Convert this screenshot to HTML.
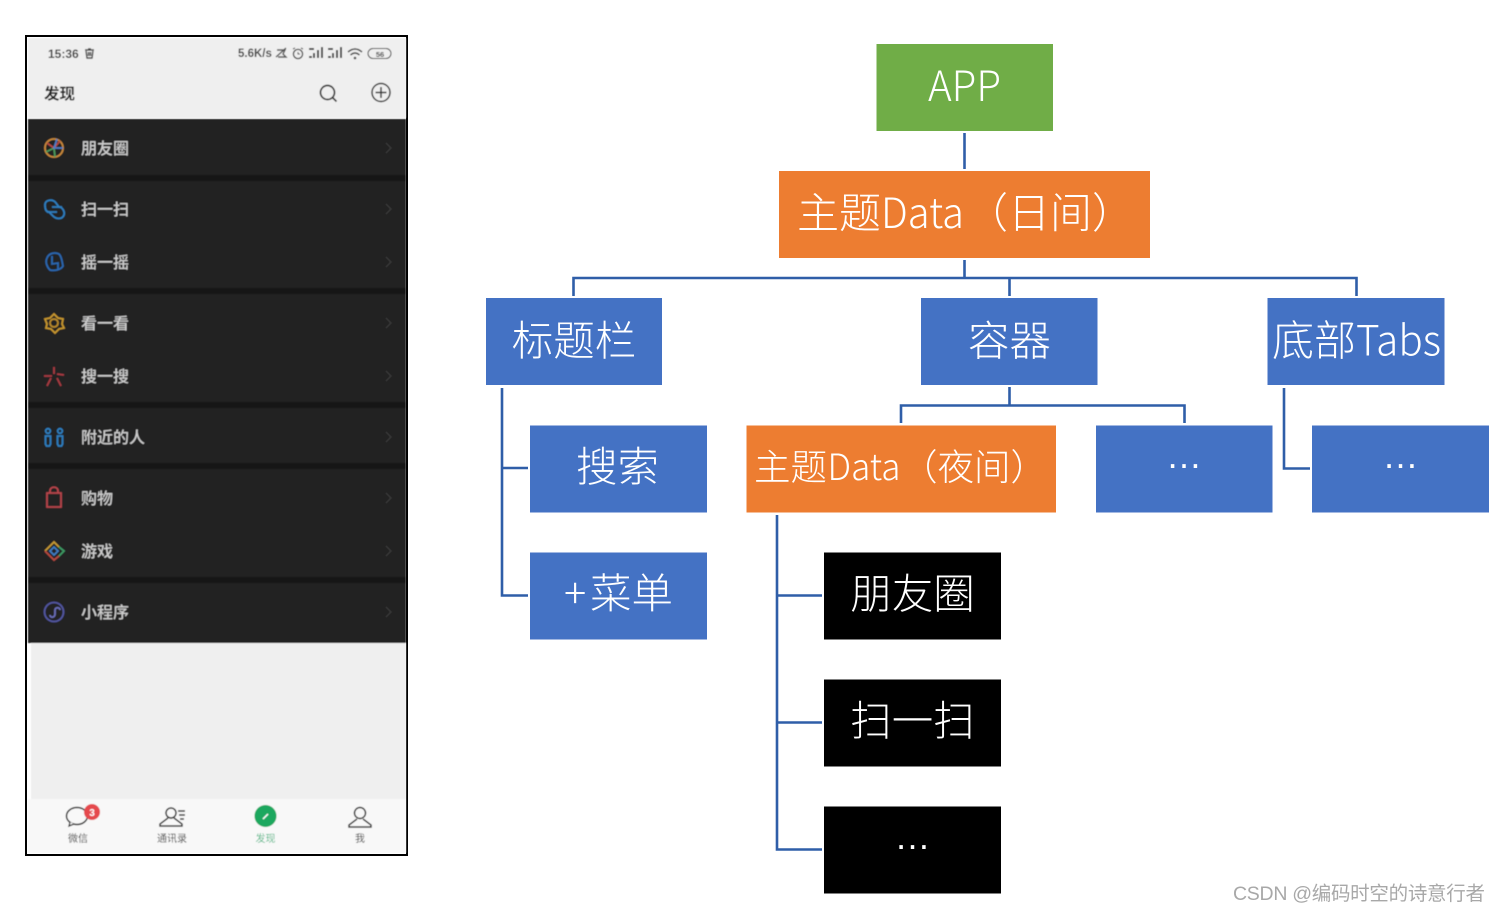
<!DOCTYPE html>
<html lang="zh">
<head>
<meta charset="utf-8">
<style>
html,body{margin:0;padding:0;background:#fff;width:1500px;height:912px;overflow:hidden}
svg{display:block}
text{font-family:"Liberation Sans","Noto Sans CJK SC",sans-serif}
.n{fill:#fff;font-weight:300;font-size:41.500px;text-anchor:middle;font-family:"Noto Sans CJK SC","Liberation Sans",sans-serif}
.s{text-anchor:start}
.d{fill:#fff;font-size:36px;text-anchor:middle;font-family:"Liberation Sans",sans-serif}
.m{fill:#cdcdcd;font-size:16px;font-weight:500}
.t{fill:#4a4a4a;font-size:10px;text-anchor:middle}
.c{fill:none;stroke:#2f5ea8;stroke-width:2.6}
.i{fill:none;stroke-width:1.8}
.ch{fill:none;stroke:#3a3a3a;stroke-width:1.3}
</style>
</head>
<body>
<svg width="1500" height="912" viewBox="0 0 1500 912" xmlns="http://www.w3.org/2000/svg">
<defs><filter id="b" x="-5%" y="-5%" width="110%" height="110%"><feGaussianBlur stdDeviation="0.6"/></filter></defs>

<!-- Phone -->
<rect x="26" y="36" width="381" height="819" fill="#fff" stroke="#000" stroke-width="2"/>
<g filter="url(#b)">
<rect x="28" y="38" width="378" height="80" fill="#efefef"/>
<rect x="28" y="119" width="378" height="524" fill="#222224"/>
<rect x="28" y="175" width="378" height="6" fill="#171717"/>
<rect x="28" y="288" width="378" height="6" fill="#171717"/>
<rect x="28" y="402" width="378" height="6" fill="#171717"/>
<rect x="28" y="463" width="378" height="6" fill="#171717"/>
<rect x="28" y="577" width="378" height="6" fill="#171717"/>
<rect x="31" y="643" width="375" height="156" fill="#efefef"/>
<rect x="28" y="799" width="378" height="54" fill="#f8f8f8"/>

<!-- status bar -->
<text x="48" y="58" font-size="12" font-weight="700" fill="#444">15:36</text>
<path d="M85 50h9M86 51l1 7h5l1-7M88 49h3M87.500 53h4M87.500 55h4" fill="none" stroke="#444" stroke-width="1.400"/>
<text x="238" y="57" font-size="11.500" font-weight="700" fill="#444">5.6K/s</text>
<path d="M276 57l10-9M277 50h8l-2 4 3 3h-8" fill="none" stroke="#555" stroke-width="1.400"/>
<circle cx="298" cy="54" r="4.600" fill="none" stroke="#444" stroke-width="1.300"/>
<path d="M293 49l2-1M303 49l-2-1M298 52v2h2" fill="none" stroke="#444" stroke-width="1"/>
<path d="M309 58h3v-2h-3zM313 58h2v-5h-2zM317 58h2v-8h-2zM321 58h2v-11h-2zM309 50h5v-2h-5z" fill="#444"/>
<path d="M328 58h3v-2h-3zM332 58h2v-5h-2zM336 58h2v-8h-2zM340 58h2v-11h-2zM328 50h5v-2h-5z" fill="#444"/>
<path d="M348 52q7-6 14 0M350.500 55q4.500-4 9 0" fill="none" stroke="#444" stroke-width="1.500"/>
<circle cx="355" cy="58" r="1.300" fill="#444"/>
<rect x="368" y="48.500" width="23" height="10" rx="5" fill="none" stroke="#444" stroke-width="1"/>
<text x="380" y="57" font-size="7.500" font-weight="700" fill="#444" text-anchor="middle">56</text>

<!-- title bar -->
<text x="44" y="99" font-size="15.500" font-weight="700" fill="#222">发现</text>
<circle cx="327.500" cy="92.500" r="7" fill="none" stroke="#333" stroke-width="1.700"/>
<path d="M332.500 97.500l4 4" stroke="#333" stroke-width="1.700"/>
<circle cx="381" cy="92.500" r="9" fill="none" stroke="#333" stroke-width="1.500"/>
<path d="M375.500 92.500h11M381 87v11" stroke="#333" stroke-width="1.500"/>

<!-- menu labels -->
<text class="m" x="81" y="154">朋友圈</text>
<text class="m" x="81" y="215">扫一扫</text>
<text class="m" x="81" y="268">摇一摇</text>
<text class="m" x="81" y="329">看一看</text>
<text class="m" x="81" y="382">搜一搜</text>
<text class="m" x="81" y="443">附近的人</text>
<text class="m" x="81" y="504">购物</text>
<text class="m" x="81" y="557">游戏</text>
<text class="m" x="81" y="618">小程序</text>

<!-- chevrons -->
<path class="ch" d="M386 143l5 5-5 5M386 204l5 5-5 5M386 257l5 5-5 5M386 318l5 5-5 5M386 371l5 5-5 5M386 432l5 5-5 5M386 493l5 5-5 5M386 546l5 5-5 5M386 607l5 5-5 5"/>

<!-- menu icons -->
<circle cx="54" cy="148" r="9" class="i" stroke="#c9893a"/>
<path class="i" stroke="#4c9a5a" d="M46 152l8-4 1 9"/>
<path class="i" stroke="#b6483f" d="M47 143l7 5 6-7"/>
<path class="i" stroke="#4f7cc4" d="M63 148l-9 0 3-9"/>
<path class="i" stroke="#2f7fc0" d="M45 205c0-6 9-6 11-2l3 4c3 0 6 4 5 8-2 5-8 4-11 1l-4-4c-3 0-4-3-4-7z"/>
<path class="i" stroke="#2f7fc0" d="M47 212h10M52 207h10"/>
<path class="i" stroke="#2a68b0" d="M47 258c2-5 8-6 12-4 3 3 3 8 4 12-2 4-9 5-13 4-3-3-5-8-3-12zM52 256v8l6-1v6"/>
<path class="i" stroke="#c6962f" d="M54 314l4 4 5 1-1 5 2 4-5 1-4 4-4-4-5-1 1-4-2-5 5-1z"/>
<circle cx="54" cy="323" r="4" class="i" stroke="#b98a2c"/>
<path class="i" stroke="#a83a42" d="M54 367v7M44 376h8M57 374l7 1M51 378l-4 8M57 378l4 8"/>
<circle cx="48" cy="431" r="2.300" class="i" stroke="#2f7fc0"/>
<circle cx="60" cy="431" r="2.300" class="i" stroke="#2f7fc0"/>
<path class="i" stroke="#2f7fc0" d="M45.500 436h5l0 8-1 2h-3l-1-2zM57.500 436h5l0 8-1 2h-3l-1-2z"/>
<path class="i" stroke="#b8454b" d="M47 493h14v14h-14zM50 493v-2c0-5 8-5 8 0v2"/>
<path class="i" stroke="#c69a35" d="M45 551l9-9 5 5"/>
<path class="i" stroke="#3d9a63" d="M59 547l5 4-5 5"/>
<path class="i" stroke="#b6483f" d="M45 551l9 9 5-4"/>
<path class="i" stroke="#3f7cc0" d="M54 547l4 4-4 4-4-4z"/>
<circle cx="54" cy="612" r="9.500" class="i" stroke="#5256a0"/>
<path class="i" stroke="#6a6eb8" d="M50 615c0 3 5 3 5-1v-4c0-3 5-3 5 0"/>

<!-- tab bar -->
<ellipse cx="77" cy="816" rx="10.500" ry="8.500" fill="none" stroke="#333" stroke-width="1.500"/>
<path d="M70 822l-1 4 5-2" fill="#f8f8f8" stroke="#333" stroke-width="1.300"/>
<circle cx="92" cy="812" r="8" fill="#e5484d"/>
<text x="92" y="816" font-size="10" font-weight="700" fill="#fff" text-anchor="middle">3</text>
<text class="t" x="78" y="842">微信</text>
<circle cx="171" cy="813" r="5" fill="none" stroke="#333" stroke-width="1.500"/>
<path d="M168 818l-8 6v2h22v-2l-8-6M178 811h7M179 815h6M180 819h4" fill="none" stroke="#333" stroke-width="1.500"/>
<text class="t" x="172" y="842">通讯录</text>
<circle cx="265.500" cy="816" r="11" fill="#1fa85e"/>
<path d="M263 819l5-5" stroke="#fff" stroke-width="1.500"/>
<text class="t" x="265.500" y="842" style="fill:#58b98a">发现</text>
<circle cx="360" cy="813" r="5.500" fill="none" stroke="#333" stroke-width="1.500"/>
<path d="M357 819l-8 6v2h22v-2l-8-6" fill="none" stroke="#333" stroke-width="1.500"/>
<text class="t" x="360" y="842">我</text>
</g>

<!-- Connectors -->
<path class="c" d="M964.500 133V169"/>
<path class="c" d="M964.500 260V278M573.500 296V278H1356.500V296M1009.500 278V296"/>
<path class="c" d="M1009.500 387V405.500M901 423V405.500H1184.500V423"/>
<path class="c" d="M502 388V595.500H528M502 468H528"/>
<path class="c" d="M1284 388V468.500H1310"/>
<path class="c" d="M777 515V849.500H822M777 595.500H822M777 722.500H822"/>

<!-- Nodes -->
<rect x="876.500" y="44" width="176.500" height="87" fill="#70ad47"/>
<rect x="779" y="171" width="371" height="87" fill="#ed7d31"/>
<rect x="486" y="298" width="176" height="87" fill="#4472c4"/>
<rect x="921" y="298" width="176.500" height="87" fill="#4472c4"/>
<rect x="1267.500" y="298" width="177" height="87" fill="#4472c4"/>
<rect x="530" y="425.500" width="177" height="87" fill="#4472c4"/>
<rect x="746.500" y="425.500" width="309.500" height="87" fill="#ed7d31"/>
<rect x="1096" y="425.500" width="176.500" height="87" fill="#4472c4"/>
<rect x="1312" y="425.500" width="177" height="87" fill="#4472c4"/>
<rect x="530" y="552.500" width="177" height="87" fill="#4472c4"/>
<rect x="824" y="552.500" width="177" height="87" fill="#000"/>
<rect x="824" y="679.500" width="177" height="87" fill="#000"/>
<rect x="824" y="806.500" width="177" height="87" fill="#000"/>

<!-- Node labels -->
<text class="n" x="964.500" y="101" textLength="73" lengthAdjust="spacingAndGlyphs">APP</text>

<text class="n s" x="797" y="228" style="font-size:42px">主题</text>
<text class="n s" x="881" y="228" style="font-size:42px" textLength="83" lengthAdjust="spacingAndGlyphs">Data</text>
<text class="n s" x="966" y="228" style="font-size:42px">（日间）</text>

<text class="n" x="574" y="355.500">标题栏</text>
<text class="n" x="1009.500" y="355.500">容器</text>

<text class="n s" x="1272" y="355.500" style="font-size:42px">底部</text>
<text class="n s" x="1356" y="355.500" style="font-size:42px" textLength="85" lengthAdjust="spacingAndGlyphs">Tabs</text>

<text class="n" x="617.500" y="481.500">搜索</text>

<text class="n s" x="754" y="480" style="font-size:36.500px">主题</text>
<text class="n s" x="827.500" y="480" style="font-size:36.500px" textLength="73" lengthAdjust="spacingAndGlyphs">Data</text>
<text class="n s" x="901" y="480" style="font-size:36.500px">（夜间）</text>

<text class="d" x="1184" y="468">…</text>
<text class="d" x="1400.500" y="468">…</text>

<text class="n s" x="564" y="608">+</text>
<text class="n s" x="590" y="608">菜单</text>

<text class="n" x="912.500" y="608.500">朋友圈</text>
<text class="n" x="912.500" y="735.500">扫一扫</text>
<text class="d" x="912.500" y="849">…</text>

<!-- Watermark -->
<text x="1233" y="900" font-size="19.500" fill="#a8a8a8" textLength="252" lengthAdjust="spacing">CSDN @编码时空的诗意行者</text>
</svg>
</body>
</html>
